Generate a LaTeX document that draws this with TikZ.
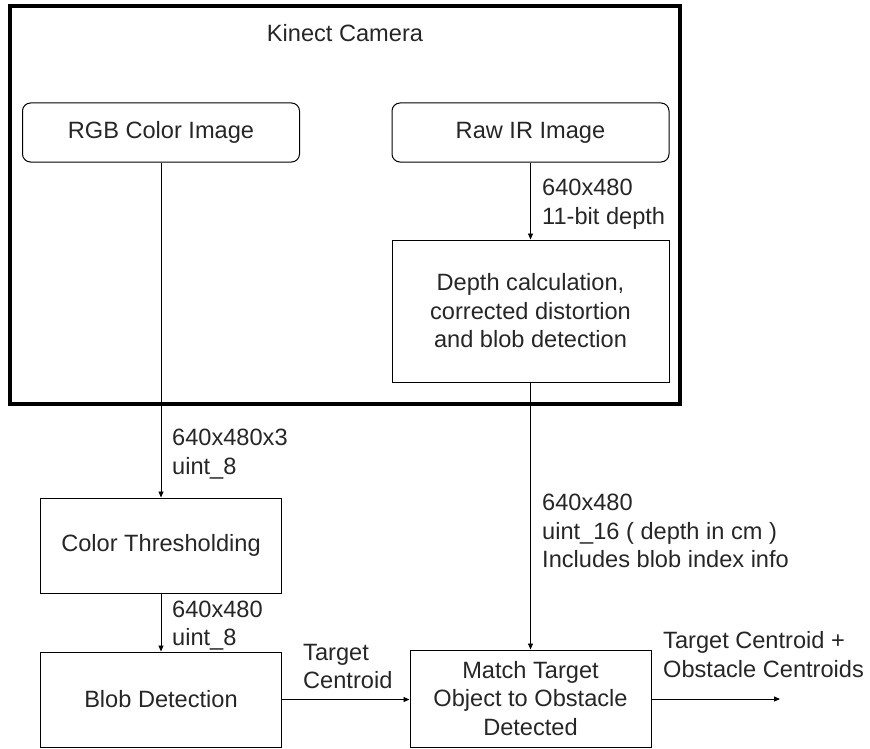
\documentclass[tikz,border=0pt]{standalone}
\usepackage{fontspec}
\setmainfont{Liberation Sans}
\usetikzlibrary{arrows.meta}

\begin{document}
\begin{tikzpicture}[
        x=1pt, y=-1pt, font=\fontsize{23.6}{28.5}\selectfont,
        every node/.style={text=black!85},
        block/.style={draw, line width=1pt, minimum width=241pt, minimum height=95pt, align=center, inner sep=0pt},
        source/.style={block, rounded corners=8pt, minimum width=277pt, minimum height=59pt},
        flow/.style={-{Triangle[length=6pt, width=5pt]}, line width=0.9pt},
        info/.style={anchor=west, align=left, inner sep=0pt},
    ]
        \useasboundingbox (0,0) rectangle (870,749);

        % --- Kinect camera frame ---
        \node[draw, line width=4pt, minimum width=670pt, minimum height=398pt, inner sep=0pt] (cam) at (345,205) {};
        \node (title) at (345,33) {Kinect Camera};

        % --- Blocks ---
        \node[source] (rgb) at (161,132.5) {RGB Color Image};
        \node[source] (raw) at (530.5,132.5) {Raw IR Image};
        \node[block, minimum width=277pt, minimum height=142pt] (depth) at (530.5,311) {Depth calculation,\\corrected distortion\\and blob detection};
        \node[block] (thresh) at (161,545.5) {Color Thresholding};
        \node[block] (blob) at (161,699.5) {Blob Detection};
        \node[block, minimum height=97pt] (match) at (530.5,698.5) {Match Target\\Object to Obstacle\\Detected};
        \coordinate (out) at (780,699);

        % --- Connectors ---
        \draw[flow] (raw.south) -- (depth.north);
        \draw[flow] (rgb.south) -- (rgb.south |- thresh.north);
        \draw[flow] (thresh.south) -- (blob.north);
        \draw[flow] (depth.south) -- (match.north);
        \draw[flow] (blob.east) -- (blob.east -| match.west);
        \draw[flow] (match.east |- out) -- (out);

        % --- Data labels ---
        \node[info] (l-raw) at (542,204) {640x480\\11-bit depth};
        \node[info] (l-rgb) at (172,454) {640x480x3\\uint\_8};
        \node[info] (l-thr) at (172,625.5) {640x480\\uint\_8};
        \node[info] (l-dep) at (542,531) {640x480\\uint\_16 ( depth in cm )\\Includes blob index info};
        \node[info] (l-tgt) at (303,666.5) {Target\\Centroid};
        \node[info] (l-out) at (663,654.5) {Target Centroid +\\Obstacle Centroids};
    \end{tikzpicture}
\end{document}
